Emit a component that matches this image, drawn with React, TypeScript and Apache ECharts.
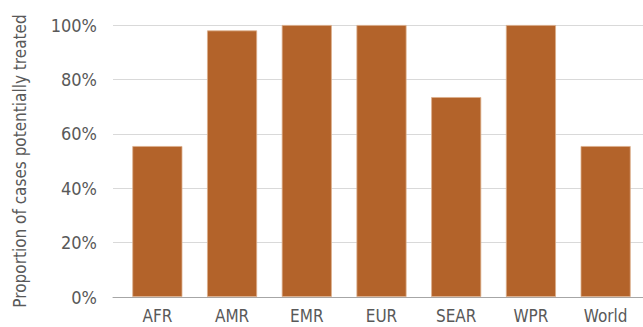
import React, { useEffect, useRef } from "react";
import * as echarts from "echarts";

const categories = ["AFR", "AMR", "EMR", "EUR", "SEAR", "WPR", "World"];
const values = [55.5, 98, 100, 100, 73.5, 100, 55.5];
const yTicks = [0, 20, 40, 60, 80, 100];
const yTitle = "Proportion of cases potentially treated";

const FONT = "'Liberation Sans Narrow', 'DejaVu Sans Condensed', 'Roboto Condensed', sans-serif";

export default function App() {
  const ref = useRef<HTMLDivElement>(null);
  useEffect(() => {
    if (!ref.current) return;
    const chart = echarts.init(ref.current, null, { renderer: "svg" });
    chart.setOption({
      animation: false,
      backgroundColor: "#ffffff",
      grid: [
        { left: 113, right: 0, top: 25, bottom: 30, containLabel: false },
        { left: 120, right: 0, top: 25, bottom: 30, containLabel: false },
      ],
      xAxis: [
        {
          type: "value",
          gridIndex: 0,
          min: 0,
          max: 1,
          axisLine: { show: true, onZero: false, lineStyle: { color: "#a6a6a6", width: 1 } },
          axisTick: { show: false },
          axisLabel: { show: false },
          splitLine: { show: false },
        },
        {
          type: "category",
          gridIndex: 1,
          data: categories,
          axisLine: { show: false },
          axisTick: { show: false },
          axisLabel: {
            color: "#595959",
            fontFamily: FONT,
            fontSize: 17,
            margin: 10,
          },
        },
      ],
      yAxis: [
        {
          type: "value",
          gridIndex: 0,
          min: yTicks[0],
          max: yTicks[yTicks.length - 1],
          interval: 20,
          name: yTitle,
          nameLocation: "middle",
          nameGap: 85,
          nameTextStyle: { color: "#595959", fontFamily: FONT, fontSize: 17 },
          axisLine: { show: false },
          axisTick: { show: false },
          axisLabel: {
            color: "#595959",
            fontFamily: FONT,
            fontSize: 18,
            margin: 16,
            formatter: (v: number) => `${v}%`,
          },
          splitLine: { show: true, lineStyle: { color: "#d9d9d9", width: 1 } },
        },
        {
          type: "value",
          gridIndex: 1,
          min: 0,
          max: 100,
          interval: 20,
          axisLine: { show: false },
          axisTick: { show: false },
          axisLabel: { show: false },
          splitLine: { show: false },
        },
      ],
      series: [
        {
          type: "bar",
          xAxisIndex: 1,
          yAxisIndex: 1,
          data: values,
          barCategoryGap: "33%",
          itemStyle: { color: "#b3632a", borderColor: "#dcae8c", borderWidth: 0.8 },
        },
      ],
    });
    return () => chart.dispose();
  }, []);
  return (
    <div
      ref={ref}
      style={{ position: "fixed", left: 0, top: 0, width: 643, height: 327 }}
    />
  );
}
